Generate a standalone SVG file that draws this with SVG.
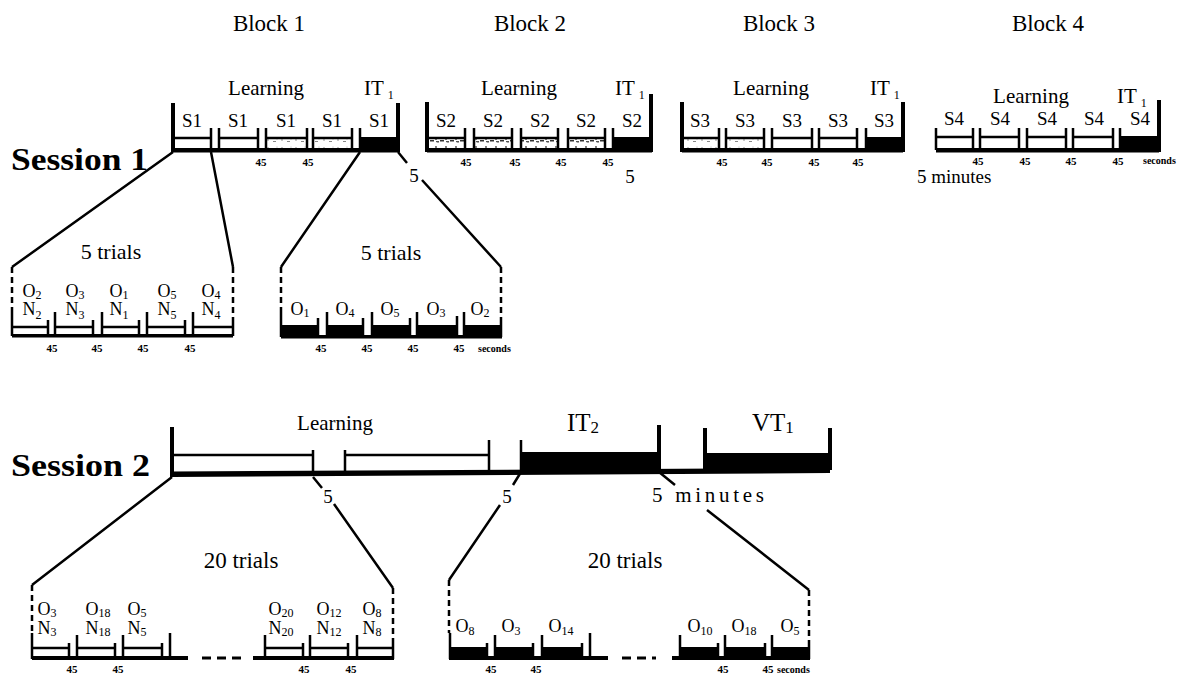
<svg xmlns="http://www.w3.org/2000/svg" width="1187" height="677" viewBox="0 0 1187 677">
<style>
.t{font-family:"Liberation Serif",serif;fill:#000}
.hd{font-size:23px;text-anchor:middle}
.ses{font-size:32px;font-weight:bold}
.lrn{font-size:21px;text-anchor:middle}
.sl{font-size:19px;text-anchor:middle}
.on{font-size:18px;text-anchor:middle}
.n45{font-family:"Liberation Serif",serif;font-weight:bold;font-size:11px;text-anchor:middle;fill:#000}
.sec{font-family:"Liberation Serif",serif;font-weight:bold;font-size:10px;fill:#000}
.ln{stroke:#000;stroke-width:2.5;fill:none}
.bar{stroke:#000;stroke-width:4;fill:none}
.dash{stroke:#000;stroke-width:2.5;fill:none;stroke-dasharray:6 4}
.blk{fill:#000}
</style>
<defs>
<pattern id="stip" width="14" height="8" patternUnits="userSpaceOnUse"><rect width="14" height="8" fill="#fff"/><circle cx="2" cy="4" r="0.7" fill="#666"/><rect x="7" y="5" width="3" height="1" fill="#888"/><circle cx="11" cy="3" r="0.5" fill="#999"/></pattern>
<pattern id="stip2" width="10" height="8" patternUnits="userSpaceOnUse"><rect width="10" height="8" fill="#fff"/><rect x="0" y="4" width="4" height="1.5" fill="#333"/><circle cx="6" cy="3" r="0.9" fill="#444"/><rect x="6" y="5" width="3" height="1.2" fill="#555"/><circle cx="8" cy="6.5" r="0.6" fill="#666"/></pattern>
</defs>
<rect width="1187" height="677" fill="#fff"/>

<g id="headings">
<text class="t hd" x="269" y="31">Block 1</text>
<text class="t hd" x="530" y="31">Block 2</text>
<text class="t hd" x="779" y="31">Block 3</text>
<text class="t hd" x="1048" y="31">Block 4</text>
<text class="t ses" x="11" y="170" textLength="137" lengthAdjust="spacingAndGlyphs">Session 1</text>
<text class="t ses" x="11" y="476" textLength="139" lengthAdjust="spacingAndGlyphs">Session 2</text>
</g>

<g id="s1-block1">
<text class="t lrn" x="266" y="95">Learning</text>
<text class="t" x="364" y="95" font-size="21">IT<tspan font-size="12" dx="4" dy="4">1</tspan></text>
<rect x="266" y="139" width="41" height="9" fill="url(#stip)"/>
<rect x="313" y="139" width="39" height="9" fill="url(#stip)"/>
<rect x="173" y="148" width="225" height="4.5" class="blk"/>
<line class="bar" x1="173" y1="103" x2="173" y2="152"/>
<path class="ln" d="M173 138H211M211 128V150M219 128V150M219 138H258M258 128V150M266 128V150M266 138H307M307 128V150M313 128V150M313 138H352M352 128V150M360 128V150"/>
<rect x="360" y="137" width="38" height="15" class="blk"/>
<line class="bar" x1="398" y1="103" x2="398" y2="152"/>
<text class="t sl" x="192" y="127">S1</text>
<text class="t sl" x="238" y="127">S1</text>
<text class="t sl" x="286" y="127">S1</text>
<text class="t sl" x="332" y="127">S1</text>
<text class="t sl" x="379" y="127">S1</text>
<text class="n45" x="261" y="166">45</text>
<text class="n45" x="308" y="166">45</text>
</g>

<g id="s1-block2">
<text class="t lrn" x="519" y="95">Learning</text>
<text class="t" x="615" y="95" font-size="21">IT<tspan font-size="12" dx="4" dy="4">1</tspan></text>
<rect x="427" y="139" width="38" height="9" fill="url(#stip2)"/>
<rect x="474" y="139" width="38" height="9" fill="url(#stip2)"/>
<rect x="521" y="139" width="37" height="9" fill="url(#stip2)"/>
<rect x="568" y="139" width="37" height="9" fill="url(#stip2)"/>
<rect x="427" y="148" width="225" height="4.5" class="blk"/>
<line class="bar" x1="427" y1="102" x2="427" y2="152"/>
<path class="ln" d="M427 138H465M465 128V150M474 128V150M474 138H512M512 128V150M521 128V150M521 138H558M558 128V150M568 128V150M568 138H605M605 128V150M613 128V150"/>
<rect x="613" y="137" width="38" height="15" class="blk"/>
<line class="bar" x1="651" y1="94" x2="651" y2="152"/>
<text class="t sl" x="446" y="127">S2</text>
<text class="t sl" x="493" y="127">S2</text>
<text class="t sl" x="540" y="127">S2</text>
<text class="t sl" x="586" y="127">S2</text>
<text class="t sl" x="632" y="127">S2</text>
<text class="n45" x="466" y="166">45</text>
<text class="n45" x="515" y="166">45</text>
<text class="n45" x="561" y="166">45</text>
<text class="n45" x="608" y="166">45</text>
</g>

<g id="s1-block3">
<text class="t lrn" x="771" y="95">Learning</text>
<text class="t" x="870" y="95" font-size="21">IT<tspan font-size="12" dx="4" dy="4">1</tspan></text>
<rect x="682" y="139" width="37" height="9" fill="url(#stip)"/>
<rect x="726" y="139" width="38" height="9" fill="url(#stip)"/>
<rect x="682" y="148" width="221" height="4.5" class="blk"/>
<line class="bar" x1="682" y1="102" x2="682" y2="152"/>
<path class="ln" d="M682 138H719M719 128V150M726 128V150M726 138H764M764 128V150M772 128V150M772 138H812M812 128V150M819 128V150M819 138H857M857 128V150M866 128V150"/>
<rect x="866" y="137" width="37" height="15" class="blk"/>
<line class="bar" x1="903" y1="102" x2="903" y2="152"/>
<text class="t sl" x="700" y="127">S3</text>
<text class="t sl" x="745" y="127">S3</text>
<text class="t sl" x="792" y="127">S3</text>
<text class="t sl" x="838" y="127">S3</text>
<text class="t sl" x="884" y="127">S3</text>
<text class="n45" x="722" y="166">45</text>
<text class="n45" x="767" y="166">45</text>
<text class="n45" x="814" y="166">45</text>
<text class="n45" x="858" y="166">45</text>
</g>

<g id="s1-block4">
<text class="t lrn" x="1031" y="103">Learning</text>
<text class="t" x="1117" y="103" font-size="21">IT<tspan font-size="12" dx="4" dy="4">1</tspan></text>
<rect x="936" y="148" width="223" height="4.5" class="blk"/>
<path class="ln" d="M936 128V150M936 137H973M973 128V150M980 128V150M980 137H1019M1019 128V150M1027 128V150M1027 137H1066M1066 128V150M1073 128V150M1073 137H1113M1113 128V150M1120 128V150"/>
<rect x="1120" y="136" width="39" height="16" class="blk"/>
<line class="bar" x1="1159" y1="100" x2="1159" y2="152"/>
<text class="t sl" x="954" y="125">S4</text>
<text class="t sl" x="1000" y="125">S4</text>
<text class="t sl" x="1047" y="125">S4</text>
<text class="t sl" x="1094" y="125">S4</text>
<text class="t sl" x="1140" y="125">S4</text>
<text class="n45" x="978" y="165">45</text>
<text class="n45" x="1025" y="165">45</text>
<text class="n45" x="1071" y="165">45</text>
<text class="n45" x="1118" y="165">45</text>
<text class="sec" x="1143" y="164">seconds</text>
</g>

<g id="s1-gaps">
<text class="t" x="414" y="182" font-size="19" text-anchor="middle">5</text>
<text class="t" x="630" y="183" font-size="19" text-anchor="middle">5</text>
<text class="t" x="917" y="183" font-size="19">5 minutes</text>
</g>

<g id="s1-trials-learning">
<text class="t" x="111" y="259" font-size="22" text-anchor="middle">5 trials</text>
<line class="dash" x1="12" y1="267" x2="12" y2="311"/>
<line class="dash" x1="233" y1="267" x2="233" y2="319"/>
<rect x="12" y="334" width="221" height="3.5" class="blk"/>
<path class="ln" d="M12 311V336M12 327H48M48 320V336M55 312V336M55 327H93M93 320V336M102 312V336M102 327H139M139 320V336M147 312V336M147 327H185M185 320V336M193 312V336M193 327H233M233 319V336"/>
<g class="t on">
<text x="32" y="297">O<tspan font-size="12" dy="2">2</tspan></text>
<text x="75" y="297">O<tspan font-size="12" dy="2">3</tspan></text>
<text x="119" y="297">O<tspan font-size="12" dy="2">1</tspan></text>
<text x="167" y="297">O<tspan font-size="12" dy="2">5</tspan></text>
<text x="211" y="297">O<tspan font-size="12" dy="2">4</tspan></text>
<text x="32" y="315">N<tspan font-size="12" dy="4">2</tspan></text>
<text x="75" y="315">N<tspan font-size="12" dy="4">3</tspan></text>
<text x="119" y="315">N<tspan font-size="12" dy="4">1</tspan></text>
<text x="167" y="315">N<tspan font-size="12" dy="4">5</tspan></text>
<text x="211" y="315">N<tspan font-size="12" dy="4">4</tspan></text>
</g>
<text class="n45" x="52" y="352">45</text>
<text class="n45" x="97" y="352">45</text>
<text class="n45" x="143" y="352">45</text>
<text class="n45" x="190" y="352">45</text>
</g>

<g id="s1-trials-test">
<text class="t" x="391" y="260" font-size="22" text-anchor="middle">5 trials</text>
<line class="dash" x1="281" y1="267" x2="281" y2="311"/>
<line class="dash" x1="501" y1="267" x2="501" y2="319"/>
<rect x="281" y="335" width="221" height="3.5" class="blk"/>
<path class="ln" d="M281 311V337M318 318V337M327 312V337M363 318V337M372 312V337M410 318V337M417 312V337M457 316V337M464 312V337M501 319V337"/>
<rect x="281" y="325" width="37" height="13" class="blk"/>
<rect x="327" y="325" width="36" height="13" class="blk"/>
<rect x="372" y="325" width="38" height="13" class="blk"/>
<rect x="417" y="325" width="40" height="13" class="blk"/>
<rect x="464" y="325" width="38" height="13" class="blk"/>
<g class="t on">
<text x="300" y="315">O<tspan font-size="12" dy="2">1</tspan></text>
<text x="345" y="315">O<tspan font-size="12" dy="2">4</tspan></text>
<text x="390" y="315">O<tspan font-size="12" dy="2">5</tspan></text>
<text x="436" y="315">O<tspan font-size="12" dy="2">3</tspan></text>
<text x="480" y="315">O<tspan font-size="12" dy="2">2</tspan></text>
</g>
<text class="n45" x="321" y="352">45</text>
<text class="n45" x="367" y="352">45</text>
<text class="n45" x="413" y="352">45</text>
<text class="n45" x="459" y="352">45</text>
<text class="sec" x="478" y="352">seconds</text>
</g>

<g id="s2-main">
<text class="t lrn" x="335" y="430">Learning</text>
<text class="t" x="567" y="431" font-size="25">IT<tspan font-size="17" dy="2">2</tspan></text>
<text class="t" x="752" y="431" font-size="25">VT<tspan font-size="17" dy="2">1</tspan></text>
<polygon class="blk" points="172,471.5 830,468 830,473 172,477"/>
<line class="bar" x1="172" y1="427" x2="172" y2="477"/>
<path class="ln" d="M172 455H313M313 450V475M345 450V473M345 455H489M489 440V472M521 440V471"/>
<rect x="521" y="452" width="138" height="19" class="blk"/>
<line class="bar" x1="659" y1="425" x2="659" y2="471"/>
<line class="bar" x1="705" y1="428" x2="705" y2="470"/>
<rect x="705" y="453" width="125" height="17" class="blk"/>
<line class="bar" x1="830" y1="428" x2="830" y2="470"/>
<text class="t" x="328" y="503" font-size="19" text-anchor="middle">5</text>
<text class="t" x="507" y="503" font-size="19" text-anchor="middle">5</text>
<text class="t" x="652" y="502" font-size="21" textLength="112">5 minutes</text>
</g>

<g id="s2-trials-learning">
<text class="t" x="241" y="568" font-size="23" text-anchor="middle">20 trials</text>
<line class="dash" x1="32" y1="585" x2="32" y2="633"/>
<line class="dash" x1="393" y1="588" x2="393" y2="640"/>
<rect x="32" y="656" width="156" height="4" class="blk"/>
<rect x="253" y="656" width="141" height="4" class="blk"/>
<line x1="202" y1="658" x2="242" y2="658" stroke="#000" stroke-width="3" stroke-dasharray="9 6"/>
<path class="ln" d="M32 633V659M32 648H69M69 643V659M77 635V659M77 648H115M115 643V659M123 635V659M123 648H162M162 643V659M170 633V659M265 635V659M265 648H303M303 643V659M310 635V659M310 648H348M348 643V659M357 635V659M357 648H393M393 640V659"/>
<g class="t on">
<text x="47" y="615">O<tspan font-size="12" dy="2">3</tspan></text>
<text x="98" y="615">O<tspan font-size="12" dy="2">18</tspan></text>
<text x="137" y="615">O<tspan font-size="12" dy="2">5</tspan></text>
<text x="281" y="615">O<tspan font-size="12" dy="2">20</tspan></text>
<text x="329" y="615">O<tspan font-size="12" dy="2">12</tspan></text>
<text x="372" y="615">O<tspan font-size="12" dy="2">8</tspan></text>
<text x="47" y="634">N<tspan font-size="12" dy="2">3</tspan></text>
<text x="98" y="634">N<tspan font-size="12" dy="2">18</tspan></text>
<text x="137" y="634">N<tspan font-size="12" dy="2">5</tspan></text>
<text x="281" y="634">N<tspan font-size="12" dy="2">20</tspan></text>
<text x="329" y="634">N<tspan font-size="12" dy="2">12</tspan></text>
<text x="372" y="634">N<tspan font-size="12" dy="2">8</tspan></text>
</g>
<text class="n45" x="72" y="673">45</text>
<text class="n45" x="118" y="673">45</text>
<text class="n45" x="304" y="673">45</text>
<text class="n45" x="351" y="673">45</text>
</g>

<g id="s2-trials-test">
<text class="t" x="625" y="568" font-size="23" text-anchor="middle">20 trials</text>
<line class="dash" x1="449" y1="580" x2="449" y2="633"/>
<line class="dash" x1="809" y1="590" x2="809" y2="640"/>
<rect x="449" y="656" width="159" height="4" class="blk"/>
<rect x="672" y="656" width="138" height="4" class="blk"/>
<line x1="622" y1="658" x2="656" y2="658" stroke="#000" stroke-width="3" stroke-dasharray="9 6"/>
<path class="ln" d="M450 633V659M487 643V659M495 635V659M533 643V659M542 635V659M582 643V659M590 633V659M680 635V659M718 643V659M725 635V659M765 643V659M772 635V659M809 640V659"/>
<rect x="450" y="647" width="37" height="12" class="blk"/>
<rect x="495" y="647" width="38" height="12" class="blk"/>
<rect x="542" y="647" width="40" height="12" class="blk"/>
<rect x="680" y="647" width="38" height="12" class="blk"/>
<rect x="725" y="647" width="40" height="12" class="blk"/>
<rect x="772" y="647" width="38" height="12" class="blk"/>
<g class="t on">
<text x="465" y="632">O<tspan font-size="12" dy="3">8</tspan></text>
<text x="511" y="632">O<tspan font-size="12" dy="3">3</tspan></text>
<text x="561" y="632">O<tspan font-size="12" dy="3">14</tspan></text>
<text x="700" y="632">O<tspan font-size="12" dy="3">10</tspan></text>
<text x="744" y="632">O<tspan font-size="12" dy="3">18</tspan></text>
<text x="790" y="632">O<tspan font-size="12" dy="3">5</tspan></text>
</g>
<text class="n45" x="491" y="673">45</text>
<text class="n45" x="536" y="673">45</text>
<text class="n45" x="723" y="673">45</text>
<text class="n45" x="768" y="673">45</text>
<text class="sec" x="777" y="673">seconds</text>
</g>

<g id="connectors">
<path class="ln" d="M173 152L12 267M211 152L233 267M360 152L281 267M398 152L407 163M422 180L501 267"/>
<path class="ln" d="M172 477L32 585M313 477L322 488M334 504L393 588M521 472L513 485M500 505L449 580M659 472L675 485M707 510L809 590"/>
</g>
</svg>
